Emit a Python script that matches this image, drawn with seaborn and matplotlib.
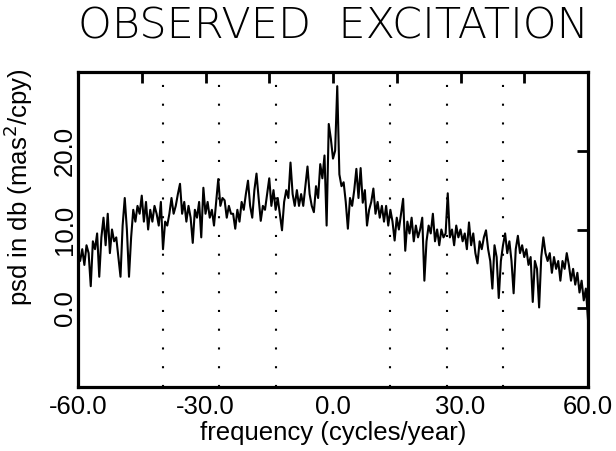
import numpy as np
import pandas as pd
import matplotlib
matplotlib.use("Agg")
import matplotlib.pyplot as plt
import seaborn as sns

# ---- data (0.5 cycles/year spacing) ----
psd_m60_m48 = [7.0, 6.0, 7.5, 5.5, 8.0, 7.0, 2.8, 8.5, 7.5, 9.5, 4.0, 9.0, 11.5,
               8.0, 12.0, 7.0, 10.0, 8.5, 9.0, 6.5, 4.0, 10.5, 14.0, 10.0, 4.0]
psd_m47_m36 = [9.0, 12.5, 11.0, 13.0, 12.0, 14.3, 11.0, 13.5, 10.0, 12.5, 11.0, 13.0,
               12.0, 10.5, 13.5, 7.5, 11.0, 10.5, 12.0, 14.0, 12.0, 13.0, 14.5, 15.8]
psd_m35_m24 = [12.0, 13.5, 11.0, 13.0, 11.5, 8.3, 12.5, 11.5, 13.5, 9.0, 15.3, 12.0,
               13.5, 11.5, 12.5, 10.5, 13.5, 16.4, 13.0, 14.0, 13.7, 11.5, 13.0, 12.0]
psd_m23_m12 = [12.0, 10.1, 12.5, 11.0, 13.5, 12.5, 14.5, 16.2, 13.0, 11.5, 15.0, 17.1,
               14.0, 11.1, 13.0, 12.5, 14.5, 16.5, 13.0, 15.0, 12.5, 14.0, 12.0, 9.9]
psd_m11_0 = [13.5, 15.0, 14.0, 18.5, 14.5, 13.0, 15.0, 13.0, 14.5, 13.0, 15.5, 18.0,
             14.5, 13.0, 12.2, 15.5, 14.0, 18.3, 16.5, 19.4, 10.5, 23.4, 21.5, 19.0]
psd_p0_p12 = [20.0, 28.2, 17.0, 15.5, 16.0, 13.5, 10.1, 14.0, 13.0, 15.0, 17.7, 14.0,
              17.8, 13.4, 15.0, 10.5, 12.5, 13.5, 15.2, 12.0, 13.5, 11.5, 13.0, 11.0]
psd_p12_p27 = [13.0, 10.5, 12.5, 11.0, 8.6, 11.5, 10.0, 12.0, 13.9, 7.3, 11.0, 9.5,
               11.5, 8.5, 10.5, 9.0, 10.0, 11.5, 3.5, 8.5, 10.5, 9.5, 12.0, 8.5, 10.0,
               8.0, 10.0, 9.0, 9.5, 14.6]
psd_p27_p43 = [9.0, 10.0, 8.0, 10.5, 9.0, 10.0, 8.5, 9.5, 7.5, 10.9, 8.0, 9.5, 7.0,
               5.7, 8.5, 7.5, 9.0, 9.9, 7.5, 6.0, 2.5, 8.0, 6.5, 1.3, 6.0, 8.0, 9.5,
               7.0, 8.5, 6.0, 1.9, 7.5, 9.2]
psd_p44_p60 = [7.0, 8.0, 6.5, 7.5, 5.5, 6.5, 0.8, 6.0, 5.0, 0.1, 6.5, 9.0, 7.0, 6.0,
               7.0, 4.5, 6.5, 5.0, 6.0, 3.5, 6.0, 5.0, 7.0, 5.5, 3.5, 5.0, 3.0, 4.5,
               2.0, 3.5, 1.0, 2.5, -1.5]

psd = (psd_m60_m48 + psd_m47_m36 + psd_m35_m24 + psd_m23_m12 + psd_m11_0 +
       psd_p0_p12 + psd_p12_p27 + psd_p27_p43 + psd_p44_p60)
freq = np.linspace(-60.0, 60.0, len(psd))

# monthly-tide harmonics marked by dotted lines (cycles/year)
tide_lines = [-40.1, -26.74, -13.37, 13.37, 26.74, 40.1]

x_ticks = [-60, -45, -30, -15, 0, 15, 30, 45, 60]
x_ticklabels = ["-60.0", "", "-30.0", "", "0.0", "", "30.0", "", "60.0"]
y_ticks = [0, 10, 20]
y_ticklabels = ["0.0", "10.0", "20.0"]

df = pd.DataFrame({"frequency": freq, "psd": psd})

# ---- plot ----
sns.set_style("white")
plt.rcParams["font.family"] = ["Liberation Sans", "DejaVu Sans"]
plt.rcParams["text.color"] = "black"
plt.rcParams["axes.labelcolor"] = "black"
plt.rcParams["xtick.color"] = "black"
plt.rcParams["ytick.color"] = "black"

fig = plt.figure(figsize=(6.16, 4.51), dpi=100)
ax = fig.add_axes([78 / 616, 1 - 387 / 451, 510 / 616, 315 / 451])

for xv in tide_lines:
    ax.axvline(xv, color="black", lw=1.5, linestyle=(0, (1, 8)), zorder=1)

sns.lineplot(data=df, x="frequency", y="psd", ax=ax, color="black",
             linewidth=1.5, estimator=None, sort=False, zorder=3)

ax.set_xlim(-60, 60)
ax.set_ylim(-10, 30)
ax.set_xticks(x_ticks)
ax.set_xticklabels(x_ticklabels)
ax.set_yticks(y_ticks)
ax.set_yticklabels(y_ticklabels, rotation=90, va="center")

ax.tick_params(axis="both", which="both", direction="in", length=8, width=2,
               top=True, right=True, labelsize=18.5, colors="black")
ax.tick_params(axis="x", pad=6)
ax.tick_params(axis="y", pad=1)
for sp in ax.spines.values():
    sp.set_visible(True)
    sp.set_linewidth(2.3)
    sp.set_color("black")

ax.set_xlabel("frequency (cycles/year)", fontsize=18.5, labelpad=1,
              color="black")
ax.set_ylabel("")
fig.text(18 / 616, 1 - 187 / 451, "psd in db (mas$^2$/cpy)", rotation=90,
         ha="center", va="center", fontsize=18.5, color="black")

fig.text(333 / 616, 1 - 26 / 451, "OBSERVED  EXCITATION", ha="center",
         va="center", fontsize=31, fontweight="light", color="black",
         family=["DejaVu Sans"])

fig.savefig("out.png", dpi=100)
